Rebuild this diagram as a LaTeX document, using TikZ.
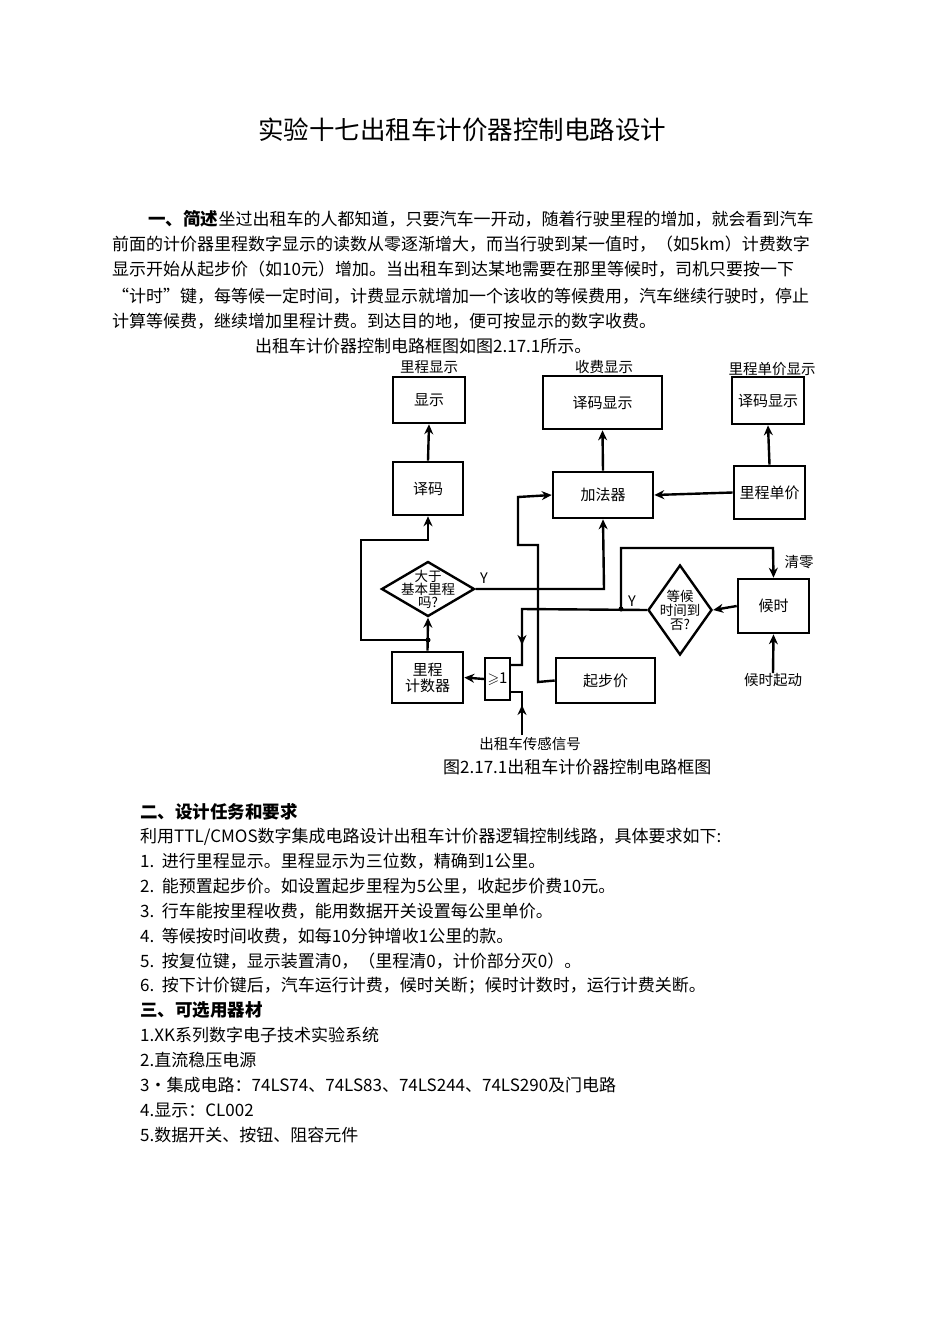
\documentclass[tikz,border=0pt]{standalone}
\usepackage{amssymb}
\usepackage{fontspec}
\setmainfont{Noto Sans CJK SC}
\usetikzlibrary{arrows.meta,shapes.geometric}
\begin{document}
\begin{tikzpicture}[x=1pt,y=-1pt,
  blk/.style={draw,line width=2.6pt,inner sep=0pt,font=\fontsize{15}{16}\selectfont},
  dia/.style={draw,line width=2.4pt,diamond,inner sep=0pt},
  ar/.style={line width=2.4pt,-{Stealth[length=10pt,width=9pt]}},
  ln/.style={line width=2.4pt},
  txt/.style={anchor=west,inner sep=0pt,font=\fontsize{17}{18}\selectfont},
  hd/.style={anchor=west,inner sep=0pt,font=\fontsize{17.5}{18}\selectfont\bfseries},
  lbl/.style={inner sep=0pt,font=\fontsize{14.5}{15}\selectfont}]
\useasboundingbox (0,0) rectangle (950,1344);
\fill[white] (0,0) rectangle (950,1344);
% text
\node[inner sep=0pt,font=\fontsize{25.5}{26}\selectfont] (title) at (462,130) {实验十七出租车计价器控制电路设计};
\node[hd] (s1) at (148,219) {一、简述};
\node[txt] (l1) at (s1.east) {坐过出租车的人都知道，只要汽车一开动，随着行驶里程的增加，就会看到汽车};
\node[txt] (l2) at (112,244) {前面的计价器里程数字显示的读数从零逐渐增大，而当行驶到某一值时，（如5km）计费数字};
\node[txt] (l3) at (112,269) {显示开始从起步价（如10元）增加。当出租车到达某地需要在那里等候时，司机只要按一下};
\node[txt] (l4) at (112,296) {“计时”键，每等候一定时间，计费显示就增加一个该收的等候费用，汽车继续行驶时，停止};
\node[txt] (l5) at (112,321) {计算等候费，继续增加里程计费。到达目的地，便可按显示的数字收费。};
\node[txt] (l6) at (255,346) {出租车计价器控制电路框图如图2.17.1所示。};
\node[txt] (cap) at (443,767) {图2.17.1出租车计价器控制电路框图};
\node[hd] (s2) at (140,812) {二、设计任务和要求};
\node[txt] (r0) at (140,837) {利用TTL/CMOS数字集成电路设计出租车计价器逻辑控制线路，具体要求如下:};
\node[txt] (r1) at (140,861) {1.\ \ 进行里程显示。里程显示为三位数，精确到1公里。};
\node[txt] (r2) at (140,886) {2.\ \ 能预置起步价。如设置起步里程为5公里，收起步价费10元。};
\node[txt] (r3) at (140,911) {3.\ \ 行车能按里程收费，能用数据开关设置每公里单价。};
\node[txt] (r4) at (140,936) {4.\ \ 等候按时间收费，如每10分钟增收1公里的款。};
\node[txt] (r5) at (140,961) {5.\ \ 按复位键，显示装置清0，（里程清0，计价部分灭0）。};
\node[txt] (r6) at (140,986) {6.\ \ 按下计价键后，汽车运行计费，候时关断；候时计数时，运行计费关断。};
\node[hd] (s3) at (140,1010) {三、可选用器材};
\node[txt] (m1) at (140,1035) {1.XK系列数字电子技术实验系统};
\node[txt] (m2) at (140,1060) {2.直流稳压电源};
\node[txt] (m3) at (140,1085) {3•集成电路：74LS74、74LS83、74LS244、74LS290及门电路};
\node[txt] (m4) at (140,1110) {4.显示：CL002};
\node[txt] (m5) at (140,1135) {5.数据开关、按钮、阻容元件};
% blocks
\node[blk,minimum width=72pt,minimum height=46pt] (xs) at (429,400) {显示};
\node[blk,minimum width=119pt,minimum height=53pt] (sf) at (602.5,402.5) {译码显示};
\node[blk,minimum width=72pt,minimum height=47pt] (dj) at (768,400.5) {译码显示};
\node[blk,minimum width=70pt,minimum height=53pt] (ym) at (428,488.5) {译码};
\node[blk,minimum width=100pt,minimum height=46pt] (jf) at (603,495) {加法器};
\node[blk,minimum width=71pt,minimum height=53pt] (lc) at (769.5,492.5) {里程单价};
\node[dia,minimum width=93pt,minimum height=55pt] (d1) at (428,589) {};
\node[lbl,align=center,font=\fontsize{13.5}{11}\selectfont] at (428,589) {大于\\基本里程\\吗?};
\node[dia,minimum width=64pt,minimum height=90pt] (d2) at (680,610) {};
\node[lbl,align=center,font=\fontsize{13.5}{14}\selectfont] at (680,610) {等候\\时间到\\否?};
\node[blk,minimum width=71pt,minimum height=54pt] (hs) at (773.5,606) {候时};
\node[blk,minimum width=71pt,minimum height=51pt,align=center,font=\fontsize{15}{16}\selectfont] (js) at (427.5,677.5) {里程\\计数器};
\node[blk,minimum width=25pt,minimum height=42pt,line width=2pt] (gt) at (497.5,679) {$\geqslant$1};
\node[blk,minimum width=99pt,minimum height=45pt] (qb) at (605.5,680.5) {起步价};
% labels
\node[lbl] (t1) at (429,367) {里程显示};
\node[lbl] (t2) at (604,367) {收费显示};
\node[lbl] (t3) at (772,369) {里程单价显示};
\node[lbl] (ty1) at (484,578) {Y};
\node[lbl] (ty2) at (632,601) {Y};
\node[lbl] (tq) at (799,562) {清零};
\node[lbl] (th) at (773,680) {候时起动};
\node[lbl] (ts) at (530,744) {出租车传感信号};
\coordinate (dot1) at (428,640);
\coordinate (dot2) at (621,609);
\coordinate (sn) at (522,735);
% connectors
\draw[ar] (ym.north) -- (xs.south);
\draw[ar] (jf.north) -- (sf.south);
\draw[ar] (lc.north) -- (dj.south);
\draw[ar] (lc.west) -- (jf.east);
\draw[ar] (js.north) -- (d1.south);
\draw[ar] (dot1) -- (361,640) -- (361,540) -- (428,540) -- (ym.south);
\draw[ar] (d1.east) -- (604,589) -- (jf.south);
\draw[ar] (qb.west) -- (538,682) -- (538,545) -- (518,545) -- (518,497) -- (jf.west);
\draw[ar] (hs.west) -- (d2.east);
\draw[ln] (d2.west) -- (522,609) -- (522,665) -- (510,665);
\draw[ar] (522,609) -- (522,645);
\draw[ar] (dot2) -- (621,548) -- (773,548) -- (hs.north);
\draw[ar] (gt.west) -- (js.east);
\draw[ar] (th.north) -- (hs.south);
\draw[ln] (sn) -- (522,692) -- (510,692);
\draw[ar] (sn) -- (522,705);
\fill (dot1) circle (2.5pt) (dot2) circle (2.5pt);
\end{tikzpicture}
\end{document}
